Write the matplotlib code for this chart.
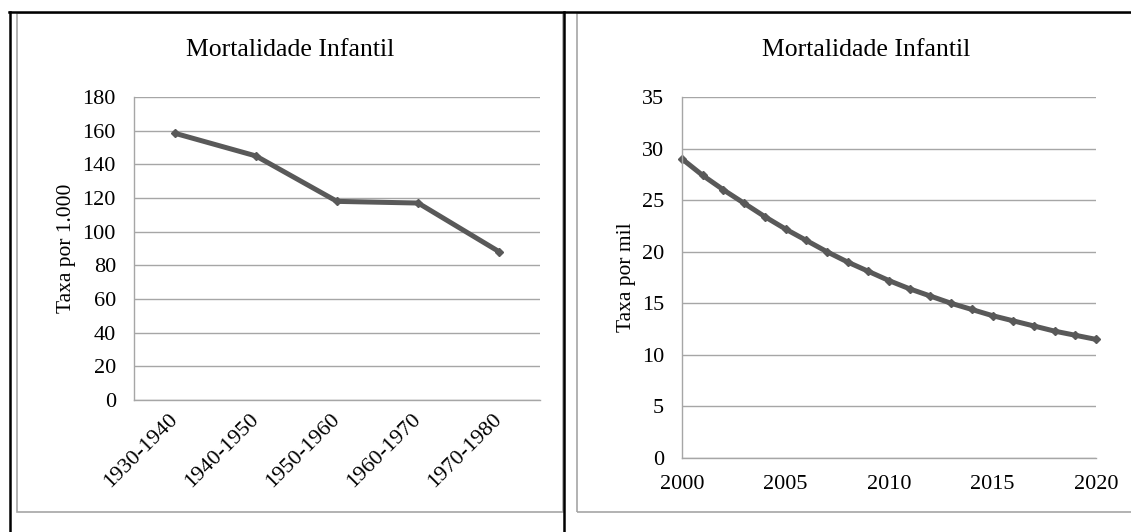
import matplotlib
matplotlib.use("Agg")
import matplotlib.pyplot as plt
from matplotlib.lines import Line2D
from matplotlib.patches import Rectangle

plt.rcParams['font.family'] = ['Liberation Serif', 'DejaVu Serif']

# decadas (grafico da esquerda)
decadas = ['1930-1940', '1940-1950', '1950-1960', '1960-1970', '1970-1980']
taxa_decadas = [158.5, 145, 118, 117, 88]

# anos 2000-2020 (grafico da direita)
anos = list(range(2000, 2021))
taxa_anos = [29.0, 27.4, 26.0, 24.7, 23.4, 22.2, 21.1, 20.0, 19.0, 18.1, 17.2,
             16.4, 15.7, 15.0, 14.4, 13.8, 13.3, 12.8, 12.3, 11.9, 11.5]

LINE = '#595959'
GRID = '#a6a6a6'
W, H = 1131, 532
FS_TICK = 16
FS_LABEL = 15.5
FS_TITLE = 18.5

fig = plt.figure(figsize=(W / 100, H / 100), dpi=100)


def px_box(left, top, right, bottom):
    return [left / W, 1 - bottom / H, (right - left) / W, (bottom - top) / H]


def estilo(ax):
    for s in ['top', 'right']:
        ax.spines[s].set_visible(False)
    for s in ['left', 'bottom']:
        ax.spines[s].set_color(GRID)
        ax.spines[s].set_linewidth(1.0)
    ax.yaxis.grid(True, color=GRID, linewidth=1.0)
    ax.set_axisbelow(True)
    ax.tick_params(length=0, labelsize=FS_TICK, colors='black')


# moldura da pagina
fig.add_artist(Rectangle((17 / W, 1 - 512 / H), (563 - 17) / W, (512 - 13) / H,
                         transform=fig.transFigure, fill=False, edgecolor=GRID, lw=1.2))
fig.add_artist(Rectangle((577 / W, 1 - 512 / H), (1140 - 577) / W, (512 - 13) / H,
                         transform=fig.transFigure, fill=False, edgecolor=GRID, lw=1.2))
for xs, ys in [([9 / W, 1], [1 - 12 / H] * 2),
               ([10 / W] * 2, [0, 1 - 12 / H]),
               ([564 / W] * 2, [0, 1 - 12 / H])]:
    fig.add_artist(Line2D(xs, ys, transform=fig.transFigure, color='black', lw=1.8))

# grafico 1
ax1 = fig.add_axes(px_box(134, 97, 540, 400))
estilo(ax1)
x1 = list(range(len(decadas)))
ax1.plot(x1, taxa_decadas, color=LINE, lw=3.6, marker='D', markersize=4.5,
         solid_capstyle='round', solid_joinstyle='round', clip_on=False)
ax1.set_xlim(-0.5, len(decadas) - 0.5)
ax1.set_ylim(0, 180)
ax1.set_yticks(range(0, 181, 20))
ax1.set_xticks(x1)
ax1.set_xticklabels(decadas, rotation=45, ha='right', va='center',
                    rotation_mode='anchor')
ax1.tick_params(axis='y', pad=13)
ax1.tick_params(axis='x', pad=12)
ax1.set_ylabel('Taxa por 1.000', fontsize=FS_LABEL, labelpad=5)
fig.text(290 / W, 1 - 50 / H, 'Mortalidade Infantil', fontsize=FS_TITLE,
         ha='center', va='center')

# grafico 2
ax2 = fig.add_axes(px_box(682, 97, 1096, 458))
estilo(ax2)
ax2.plot(anos, taxa_anos, color=LINE, lw=3.6, marker='D', markersize=4.5,
         solid_capstyle='round', solid_joinstyle='round', clip_on=False)
ax2.set_xlim(2000, 2020)
ax2.set_ylim(0, 35)
ax2.set_yticks(range(0, 36, 5))
ax2.set_xticks(range(2000, 2021, 5))
ax2.tick_params(axis='y', pad=13)
ax2.tick_params(axis='x', pad=12)
ax2.set_ylabel('Taxa por mil', fontsize=FS_LABEL, labelpad=4)
fig.text(866 / W, 1 - 50 / H, 'Mortalidade Infantil', fontsize=FS_TITLE,
         ha='center', va='center')

fig.savefig('out.png', dpi=100)
